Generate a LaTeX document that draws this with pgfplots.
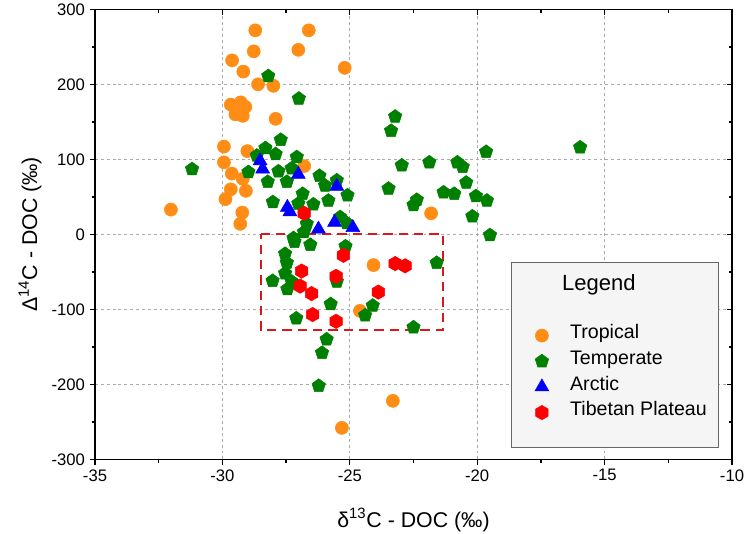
\documentclass[border=0pt]{standalone}
\usepackage{fontspec}
\setmainfont{Liberation Sans}
\usepackage{pgfplots}
\pgfplotsset{compat=1.18}
\usetikzlibrary{plotmarks}

\definecolor{trop}{RGB}{255,140,20}
\definecolor{temp}{RGB}{0,128,0}
\definecolor{arct}{RGB}{0,0,255}
\definecolor{tib}{RGB}{255,0,0}
\definecolor{boxred}{RGB}{215,25,28}
\definecolor{gridc}{RGB}{170,170,170}

\pgfdeclareplotmark{hexagon*}{%
  \pgfpathmoveto{\pgfqpointpolar{90}{\pgfplotmarksize}}%
  \pgfpathlineto{\pgfqpointpolar{150}{\pgfplotmarksize}}%
  \pgfpathlineto{\pgfqpointpolar{210}{\pgfplotmarksize}}%
  \pgfpathlineto{\pgfqpointpolar{270}{\pgfplotmarksize}}%
  \pgfpathlineto{\pgfqpointpolar{330}{\pgfplotmarksize}}%
  \pgfpathlineto{\pgfqpointpolar{30}{\pgfplotmarksize}}%
  \pgfpathclose
  \pgfusepathqfillstroke}

\pgfplotsset{
  base/.style={
    scale only axis,
    width=477.75pt, height=337.5pt,
    xmin=-35, xmax=-10, ymin=-300, ymax=300,
    xtick={-35,-30,...,-10}, ytick={-300,-200,...,300},
    minor x tick num=1, minor y tick num=1,
    axis line style={line width=1pt},
    major tick length=4pt, minor tick length=2.5pt,
    every tick/.style={black, line width=1pt},
    /pgf/number format/assume math mode=true,
  }
}

\begin{document}
\begin{tikzpicture}
\useasboundingbox (-71.25pt,-55.3pt) rectangle (487.5pt,344.5pt);
\begin{axis}[base,
  tick align=outside,
  xtick pos=left, ytick pos=left,
  grid=major,
  major grid style={gridc, line width=0.6pt, dash pattern=on 2.2pt off 2.2pt},
  tick label style={font=\fontsize{12.5}{15}\selectfont},
  xlabel={δ\textsuperscript{13}C - DOC (‰)},
  ylabel={Δ\textsuperscript{14}C - DOC (‰)},
  label style={font=\fontsize{16}{19}\selectfont},
  xlabel style={at={(axis description cs:0.5,-0.135)}, anchor=center},
  ylabel style={at={(axis description cs:-0.102,0.5)}, anchor=center},
  legend cell align=left,
  legend style={at={(rel axis cs:0.684,0.31)}, anchor=north west,
    draw=none, fill=none, font=\fontsize{14.7}{17}\selectfont,
    nodes={inner ysep=0pt, text height=12pt, text depth=7.25pt},
    /tikz/every odd column/.append style={column sep=14pt},
    row sep=0pt},
]
\addplot[only marks, mark=*, mark size=4.9pt, color=trop, mark options={fill=trop, draw=trop}] coordinates {
(-28.71,272) (-26.61,272) (-28.77,244) (-27.02,246) (-29.62,232) (-29.18,217)
(-28.6,200) (-28.0,198) (-29.67,173) (-29.28,176) (-29.1,170) (-29.49,160)
(-29.2,158) (-27.91,154) (-25.2,222) (-29.94,117) (-29.02,111) (-29.94,96)
(-26.79,91) (-29.63,81) (-29.2,74) (-29.67,60) (-29.08,58) (-29.88,47)
(-32.02,33) (-29.22,29) (-29.3,14) (-21.81,28) (-24.07,-41) (-24.6,-102)
(-23.31,-222) (-25.31,-258)
};
\addlegendentry{Tropical}
\addplot[only marks, mark=pentagon*, mark size=5.3pt, color=temp, mark options={fill=temp, draw=temp}] coordinates {
(-28.2,211) (-27.0,181) (-31.19,87) (-27.71,126) (-28.31,115) (-28.65,105)
(-27.91,107) (-27.08,103) (-28.98,83) (-28.22,70) (-27.8,84) (-27.47,70)
(-27.28,88) (-26.85,54) (-28.02,43) (-27.02,41) (-26.43,40) (-26.19,78)
(-25.97,65) (-25.84,45) (-25.51,72) (-26.69,14) (-27.21,-5) (-25.09,52)
(-25.38,23) (-25.12,15) (-27.17,-10) (-26.55,-14) (-25.17,-16) (-26.8,3)
(-27.54,-26) (-27.47,-38) (-27.54,-52) (-25.51,-63) (-28.03,-62) (-27.45,-73)
(-27.28,-63) (-21.59,-38) (-25.75,-93) (-24.1,-95) (-27.1,-112) (-24.4,-108)
(-22.5,-124) (-25.91,-140) (-26.09,-158) (-26.22,-202) (-19.5,-1)
(-23.22,157) (-23.38,138) (-19.65,110) (-15.96,116) (-22.96,92) (-21.88,96)
(-20.78,96) (-20.57,90) (-23.48,61) (-20.43,69) (-21.32,56) (-20.9,54)
(-20.05,51) (-19.62,45) (-22.37,46) (-22.5,39) (-20.19,24)
};
\addlegendentry{Temperate}
\addplot[only marks, mark=triangle*, mark size=6pt, color=arct, mark options={fill=arct, draw=arct}] coordinates {
(-28.52,98) (-28.42,87) (-27.02,80) (-25.51,64) (-27.45,36) (-27.35,30)
(-26.23,7) (-25.6,16) (-24.88,9)
};
\addlegendentry{Arctic}
\addplot[only marks, mark=hexagon*, mark size=5.4pt, color=tib, mark options={fill=tib, draw=tib}] coordinates {
(-26.79,28) (-25.25,-28) (-26.89,-49) (-25.54,-56) (-26.95,-69) (-26.5,-79)
(-23.88,-77) (-23.22,-39) (-22.83,-42) (-26.46,-107) (-25.54,-116)
};
\addlegendentry{Tibetan Plateau}
\addplot[boxred, line width=1.5pt, dash pattern=on 7pt off 4.5pt, no marks, forget plot] coordinates {
(-28.5,0) (-21.35,0) (-21.35,-128) (-28.5,-128) (-28.5,0)
};
\draw[draw=black!60, fill=black!4, line width=0.7pt] (rel axis cs:0.6531,0.0273) rectangle (rel axis cs:0.978,0.4384);
\node[font=\fontsize{16.5}{19}\selectfont] at (rel axis cs:0.791,0.3873) {Legend};
\end{axis}
\begin{axis}[base,
  tick align=inside,
  xtick pos=right, ytick pos=right,
  xticklabels={}, yticklabels={},
]
\end{axis}
\end{tikzpicture}
\end{document}
